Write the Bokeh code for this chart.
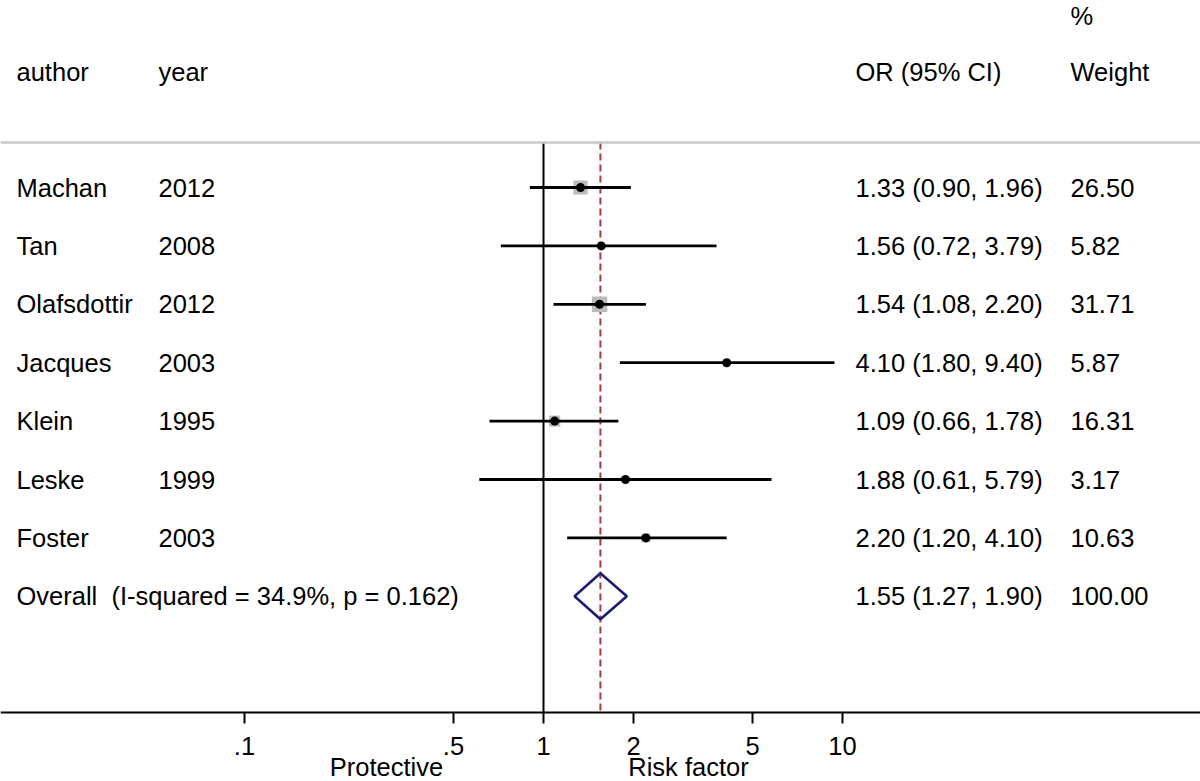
import numpy as np
from bokeh.plotting import figure
from bokeh.models import Range1d, FixedTicker, Span, ColumnDataSource
from bokeh.core.properties import value
from bokeh.embed import file_html
from bokeh.resources import INLINE

# ---------------- data ----------------
authors = ["Machan", "Tan", "Olafsdottir", "Jacques", "Klein", "Leske", "Foster"]
years = ["2012", "2008", "2012", "2003", "1995", "1999", "2003"]
or_est = [1.33, 1.56, 1.54, 4.10, 1.09, 1.88, 2.20]
ci_low = [0.90, 0.72, 1.08, 1.80, 0.66, 0.61, 1.20]
ci_high = [1.96, 3.79, 2.20, 9.40, 1.78, 5.79, 4.10]
weights = [26.50, 5.82, 31.71, 5.87, 16.31, 3.17, 10.63]

overall_name = "Overall"
overall_het = "(I-squared = 34.9%, p = 0.162)"
overall_or = 1.55
overall_low = 1.27
overall_high = 1.90
overall_weight = 100.00

tick_values = [0.1, 0.5, 1, 2, 5, 10]
tick_labels = [".1", ".5", "1", "2", "5", "10"]
side_labels = ["Protective", "Risk factor"]

# ---------------- layout helpers ----------------
W, H = 1200, 781
PX0 = 543.0        # pixel of x=1
DEC = 299.0        # pixels per decade
ROW0, ROWSTEP = 187.0, 58.4
AXIS_PY = 712


def px_to_x(px):
    return 10 ** ((px - PX0) / DEC)


def py_to_row(py):
    return (py - ROW0) / ROWSTEP


x_lo, x_hi = px_to_x(0), px_to_x(W)
y_top, y_bot = py_to_row(0), py_to_row(H)
y_sep = py_to_row(142)
y_axis = py_to_row(AXIS_PY)

FONT = "Liberation Sans"
FS = "25.5px"

n = len(authors)
rows = list(range(n))
X_AUTH, X_YEAR, X_OR, X_W = px_to_x(16), px_to_x(158), px_to_x(855), px_to_x(1070)

src = ColumnDataSource(dict(
    y=rows,
    author=authors,
    year=years,
    est=or_est,
    lo=ci_low,
    hi=ci_high,
    ortxt=[f"{o:.2f} ({l:.2f}, {h:.2f})" for o, l, h in zip(or_est, ci_low, ci_high)],
    wtxt=[f"{w:.2f}" for w in weights],
    sq=[np.sqrt(w) * 2.75 for w in weights],
    xa=[X_AUTH] * n,
    xy=[X_YEAR] * n,
    xo=[X_OR] * n,
    xw=[X_W] * n,
))

p = figure(width=W, height=H, x_axis_type="log",
           x_range=Range1d(x_lo, x_hi), y_range=Range1d(y_bot, y_top),
           output_backend="svg", toolbar_location=None,
           y_axis_location=None, min_border=0)
p.grid.visible = False
p.outline_line_color = None
p.background_fill_color = "white"
p.border_fill_color = "white"

# header separator
p.add_layout(Span(location=y_sep, dimension="width", line_color="#c8c8c8", line_width=2.5))

# reference line at 1 and overall line
p.segment(x0=[1], x1=[1], y0=[y_sep], y1=[y_axis], line_color="black", line_width=2)
p.segment(x0=[overall_or], x1=[overall_or], y0=[y_sep], y1=[y_axis],
          line_color="#a83a44", line_width=2, line_dash="7 4")

# studies
p.scatter(x="est", y="y", size="sq", marker="square", source=src,
          fill_color="#bbbbbb", line_color=None)
p.segment(x0="lo", x1="hi", y0="y", y1="y", source=src, line_color="black", line_width=2.8)
p.scatter(x="est", y="y", size=9, marker="circle", source=src,
          fill_color="black", line_color=None)

# overall diamond
oy = n
dh = 0.394
p.patch(x=[overall_low, overall_or, overall_high, overall_or],
        y=[oy, oy - dh, oy, oy + dh], fill_color=None,
        line_color="#1c1c70", line_width=2.6)

# texts
tk = dict(text_font=value(FONT), text_font_size=FS, text_baseline="middle",
          text_color="black", text_align="left")
p.text(x="xa", y="y", text="author", source=src, **tk)
p.text(x="xy", y="y", text="year", source=src, **tk)
p.text(x="xo", y="y", text="ortxt", source=src, **tk)
p.text(x="xw", y="y", text="wtxt", source=src, **tk)

p.text(x=[X_AUTH, px_to_x(111)], y=[oy, oy], text=[overall_name, overall_het], **tk)
p.text(x=[X_OR], y=[oy],
       text=[f"{overall_or:.2f} ({overall_low:.2f}, {overall_high:.2f})"], **tk)
p.text(x=[X_W], y=[oy], text=[f"{overall_weight:.2f}"], **tk)

# headers
hy = py_to_row(71)
p.text(x=[X_AUTH, X_YEAR, X_OR, X_W],
       y=[hy] * 4, text=["author", "year", "OR (95% CI)", "Weight"], **tk)
p.text(x=[X_W], y=[py_to_row(15)], text=["%"], **tk)

# axis (drawn at a fixed location inside the full-height frame)
ax = p.xaxis[0]
ax.fixed_location = y_axis
ax.ticker = FixedTicker(ticks=tick_values)
ax.major_label_overrides = {float(v): lab for v, lab in zip(tick_values, tick_labels)}
ax.minor_tick_line_color = None
ax.major_tick_in = 0
ax.major_tick_out = 11
ax.major_tick_line_width = 2
ax.axis_line_width = 2
ax.axis_line_color = "black"
ax.major_tick_line_color = "black"
ax.major_label_text_font = FONT
ax.major_label_text_font_size = FS
ax.major_label_text_color = "black"
ax.major_label_standoff = 13

# side labels under the axis
p.text(x=[px_to_x(386), px_to_x(688)], y=[py_to_row(766)] * 2, text=side_labels,
       text_font=value(FONT), text_font_size=FS, text_baseline="middle",
       text_color="black", text_align="center")

open("out.html", "w").write(file_html(p, INLINE))
